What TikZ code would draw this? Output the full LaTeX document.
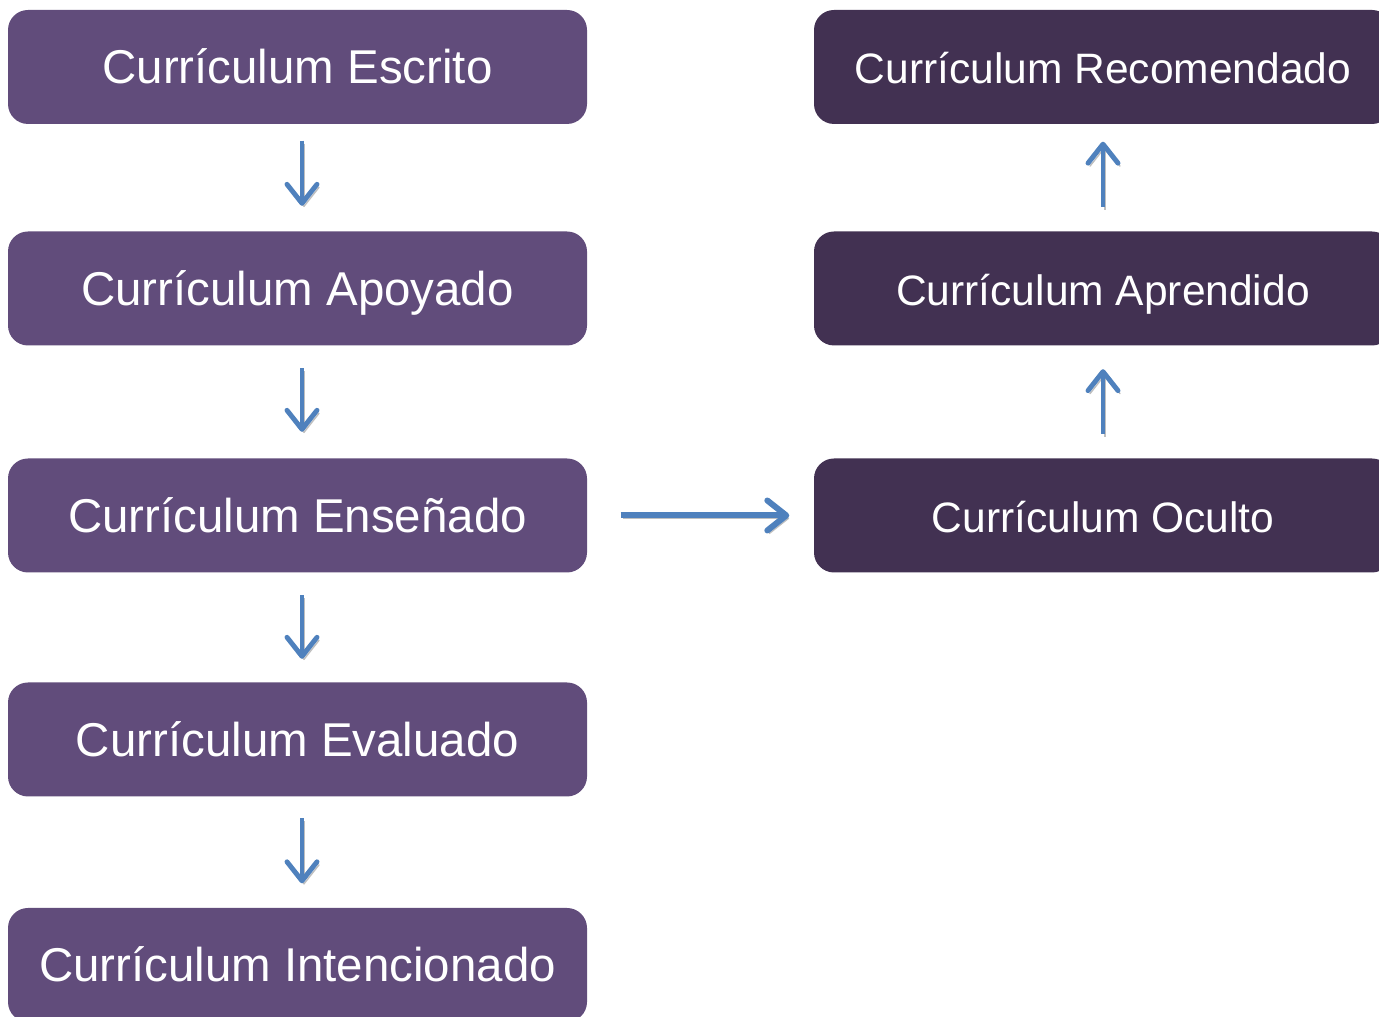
\documentclass[tikz,border=0pt]{standalone}
\usepackage{fontspec}
\setmainfont{Liberation Sans}
\usetikzlibrary{arrows.meta}
\definecolor{leftbox}{RGB}{97,76,123}
\definecolor{rightbox}{RGB}{66,49,82}
\definecolor{flowblue}{RGB}{79,129,189}
\tikzset{
    curbox/.style={fill=leftbox,rounded corners=0.2cm,minimum width=5.79cm,minimum height=1.14cm,
        inner sep=0pt,text=white,text height=0.716em+0.08cm,text depth=0pt,font=\fontsize{13.5}{16}\selectfont},
    curboxdark/.style={curbox,fill=rightbox,minimum width=5.78cm,font=\fontsize{12.1}{14}\selectfont},
    flow/.style={draw=flowblue,line width=1.4pt,-{Straight Barb[round,length=1.9mm,width=3mm]},
        preaction={draw=black!25,transform canvas={shift={(0.02,-0.03)}}}}
}
\begin{document}
\begin{tikzpicture}
    \useasboundingbox (0,0) rectangle (13.79,10.17);
    % left column
    \node[curbox] (escrito) at (2.975,9.50) {Currículum Escrito};
    \node[curbox] (apoyado) at (2.975,7.285) {Currículum Apoyado};
    \node[curbox] (ensenado) at (2.975,5.015) {Currículum Enseñado};
    \node[curbox] (evaluado) at (2.975,2.775) {Currículum Evaluado};
    \node[curbox] (intencionado) at (2.975,0.52) {Currículum Intencionado};
    % right column
    \node[curboxdark] (recomendado) at (11.03,9.50) {Currículum Recomendado};
    \node[curboxdark] (aprendido) at (11.03,7.285) {Currículum Aprendido};
    \node[curboxdark] (oculto) at (11.03,5.015) {Currículum Oculto};
    % arrows
    \draw[flow,shorten <=0.16cm,shorten >=0.25cm] ([xshift=0.045cm]escrito.south) -- ([xshift=0.045cm]apoyado.north);
    \draw[flow,shorten <=0.22cm,shorten >=0.26cm] ([xshift=0.045cm]apoyado.south) -- ([xshift=0.045cm]ensenado.north);
    \draw[flow,shorten <=0.22cm,shorten >=0.23cm] ([xshift=0.045cm]ensenado.south) -- ([xshift=0.045cm]evaluado.north);
    \draw[flow,shorten <=0.21cm,shorten >=0.24cm] ([xshift=0.045cm]evaluado.south) -- ([xshift=0.045cm]intencionado.north);
    \draw[flow,shorten <=0.24cm,shorten >=0.23cm] (oculto) -- (aprendido);
    \draw[flow,shorten <=0.24cm,shorten >=0.17cm] (aprendido) -- (recomendado);
    \draw[flow,line width=1.7pt,shorten <=0.33cm,shorten >=0.24cm] (ensenado) -- (oculto);
\end{tikzpicture}
\end{document}
